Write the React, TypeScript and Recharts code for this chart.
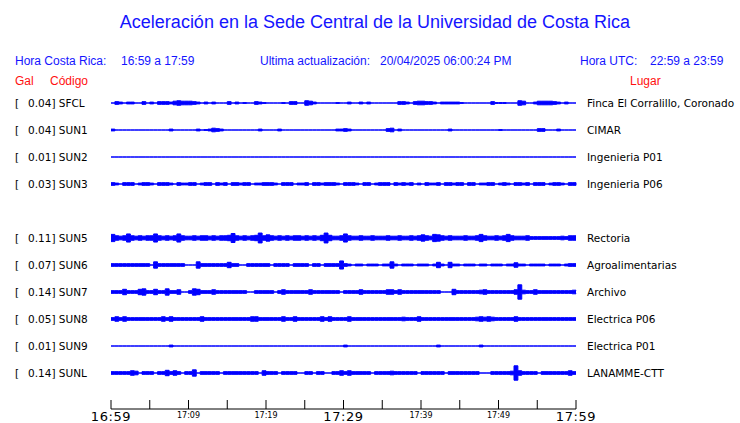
import React from 'react';
import { ComposedChart, Area, XAxis, YAxis } from 'recharts';

// Stations (top to bottom)
const codes = ['SFCL', 'SUN1', 'SUN2', 'SUN3', 'SUN5', 'SUN6', 'SUN7', 'SUN8', 'SUN9', 'SUNL'];
const gals = ['0.04', '0.04', '0.01', '0.03', '0.11', '0.07', '0.14', '0.05', '0.01', '0.14'];
const places = [
  'Finca El Corralillo, Coronado', 'CIMAR', 'Ingenieria P01', 'Ingenieria P06', 'Rectoria',
  'Agroalimentarias', 'Archivo', 'Electrica P06', 'Electrica P01', 'LANAMME-CTT',
];
// row slot of each station (slot 4 = SUN4, not shown)
const rows = [0, 1, 2, 3, 5, 6, 7, 8, 9, 10];

// time axis: minutes after 16:59, sampled every half minute
const minutes = Array.from({ length: 121 }, (_, i) => i * 0.5);
const xTicks = [0, 5, 10, 15, 20, 25, 30, 35, 40, 45, 50, 55, 60];
const xTickLabels = ['16:59', '', '17:09', '', '17:19', '', '17:29', '', '17:39', '', '17:49', '', '17:59'];

// amplitude envelope per half minute (base-36 digits, half-pixel units)
const sfcl = ['0320220030', '2033324544', '4320202000', '3020100321', '0000103300', '5420000010', '0200202000', '0000332034', '4332022222', '1000000031', '1100054002', '4444320200', '0'].join('');
const sun1 = ['2000000000', '0000020000', '0020124320', '0000000020', '0002000000', '0000000022', '3200000000', '0340200000', '0000000200', '0000000000', '1000000000', '3300020000', '0'].join('');
const sun2 = ['0000000000', '0000000000', '0000000000', '0000000000', '0000000000', '0000000000', '0000000000', '0000000000', '0000000000', '0000000000', '0000000000', '0000000000', '0'].join('');
const sun3 = ['3203330233', '2033320322', '3302330323', '0332330223', '3320333022', '3033233320', '3332033023', '3303232302', '0322303323', '3033022330', '2320332303', '3302332033', '0'].join('');
const sun5 = ['8545954545', '5954545954', '4545545455', '6a545456b5', '7545454554', '54546b6445', '9544544544', '4544544545', '7548754544', '4544585445', '4585444533', '3333334355', '5'].join('');
const sun6 = ['3333333333', '0733333330', '0073333333', '6330033333', '3033330333', '3033033339', '3202202220', '2272022202', '2202620622', '0222022022', '2022522022', '2202220233', '3'].join('');
const sun7 = ['3336333673', '3633733500', '3763335333', '3333300333', '3303533333', '3533333330', '3333533333', '3553533333', '3333300063', '3333345333', '33335g4335', '3333333334', '3'].join('');
const sun8 = ['3535333333', '3335353333', '3335333333', '3333335533', '3333533533', '3333535333', '3533333333', '3333343335', '3333333333', '3333454543', '3333533333', '3333333333', '3'].join('');
const sun9 = ['0000000000', '0000020000', '0000000000', '0000000000', '0000000000', '0000000000', '2000000000', '0000000000', '0000200000', '0000020000', '0000000000', '0000000000', '0'].join('');
const sunl = ['3333354033', '3033635303', '3703333303', '3333333305', '3330333300', '3303300335', '3533333033', '3343333330', '3333330333', '3333300033', '3334g53333', '0333333353', '3'].join('');
const traces = [sfcl, sun1, sun2, sun3, sun5, sun6, sun7, sun8, sun9, sunl];

const AMP = 0.45 / 27; // amplitude unit (px) in row units (27px per row)

const data = minutes.map((t, i) => {
  const o: Record<string, any> = { t };
  codes.forEach((c, k) => {
    const a = parseInt(traces[k][i] || '0', 36) * AMP;
    o[c] = [rows[k] - a, rows[k] + a];
  });
  return o;
});

const BLUE = '#0000ff';
const TXT_BLUE = '#1414ff';
const RED = '#ff1010';
const SANS = '"Liberation Sans", Arial, sans-serif';
const DJ = '"DejaVu Sans", sans-serif';

const RowLabels = (props: any) => {
  const { y, payload } = props;
  const k = rows.indexOf(payload.value);
  if (k < 0) return null;
  return (
    <g>
      <text x={15} y={y + 4} fontSize={10.5} fontFamily={DJ} fill="#000">[</text>
      <text x={28} y={y + 4} fontSize={10.5} fontFamily={DJ} fill="#000">{`${gals[k]}] ${codes[k]}`}</text>
      <text x={587} y={y + 4} fontSize={10.5} fontFamily={DJ} fill="#000">{places[k]}</text>
    </g>
  );
};

const XTick = (props: any) => {
  const { x, payload, index } = props;
  const lbl = xTickLabels[index];
  if (!lbl) return null;
  const big = payload.value % 30 === 0;
  return (
    <text
      x={x}
      y={big ? 421 : 418}
      textAnchor="middle"
      fontSize={big ? 13 : 8}
      letterSpacing={big ? 0.6 : 0}
      fontFamily={DJ}
      fill="#000"
    >
      {lbl}
    </text>
  );
};

export default function App() {
  return (
    <div style={{ position: 'fixed', left: 0, top: 0, width: 740, height: 423, background: '#fff' }}>
      <ComposedChart width={740} height={423} data={data} margin={{ top: 90, right: 164, bottom: 14, left: 0 }}>
        <XAxis
          dataKey="t"
          type="number"
          domain={[0, 60]}
          ticks={xTicks}
          interval={0}
          mirror
          tickSize={9}
          axisLine={{ stroke: '#000', strokeWidth: 1 }}
          tickLine={{ stroke: '#000', strokeWidth: 1 }}
          tick={<XTick />}
        />
        <YAxis
          type="number"
          reversed
          domain={[-13 / 27, 306 / 27]}
          ticks={rows}
          interval={0}
          width={111}
          axisLine={false}
          tickLine={false}
          tick={<RowLabels />}
        />
        {codes.map((c) => (
          <Area
            key={c}
            dataKey={c}
            type="stepAfter"
            stroke={BLUE}
            strokeWidth={1}
            fill={BLUE}
            fillOpacity={1}
            dot={false}
            activeDot={false}
            isAnimationActive={false}
          />
        ))}
      </ComposedChart>
      <svg width={740} height={95} style={{ position: 'absolute', left: 0, top: 0, pointerEvents: 'none' }}>
        <text x={375} y={28} textAnchor="middle" fontSize={18} fontFamily={SANS} fill={TXT_BLUE}>
          Aceleración en la Sede Central de la Universidad de Costa Rica
        </text>
        <text x={15} y={65} fontSize={12} fontFamily={SANS} fill={TXT_BLUE}>Hora Costa Rica:</text>
        <text x={121} y={65} fontSize={12} fontFamily={SANS} fill={TXT_BLUE}>16:59 a 17:59</text>
        <text x={260} y={65} fontSize={12} fontFamily={SANS} fill={TXT_BLUE}>Ultima actualización:</text>
        <text x={380} y={65} fontSize={12} fontFamily={SANS} fill={TXT_BLUE}>20/04/2025 06:00:24 PM</text>
        <text x={580} y={65} fontSize={12} fontFamily={SANS} fill={TXT_BLUE}>Hora UTC:</text>
        <text x={650} y={65} fontSize={12} fontFamily={SANS} fill={TXT_BLUE}>22:59 a 23:59</text>
        <text x={15} y={85} fontSize={12} fontFamily={SANS} fill={RED}>Gal</text>
        <text x={50} y={85} fontSize={12} fontFamily={SANS} fill={RED}>Código</text>
        <text x={630} y={85} fontSize={12} fontFamily={SANS} fill={RED}>Lugar</text>
      </svg>
    </div>
  );
}
